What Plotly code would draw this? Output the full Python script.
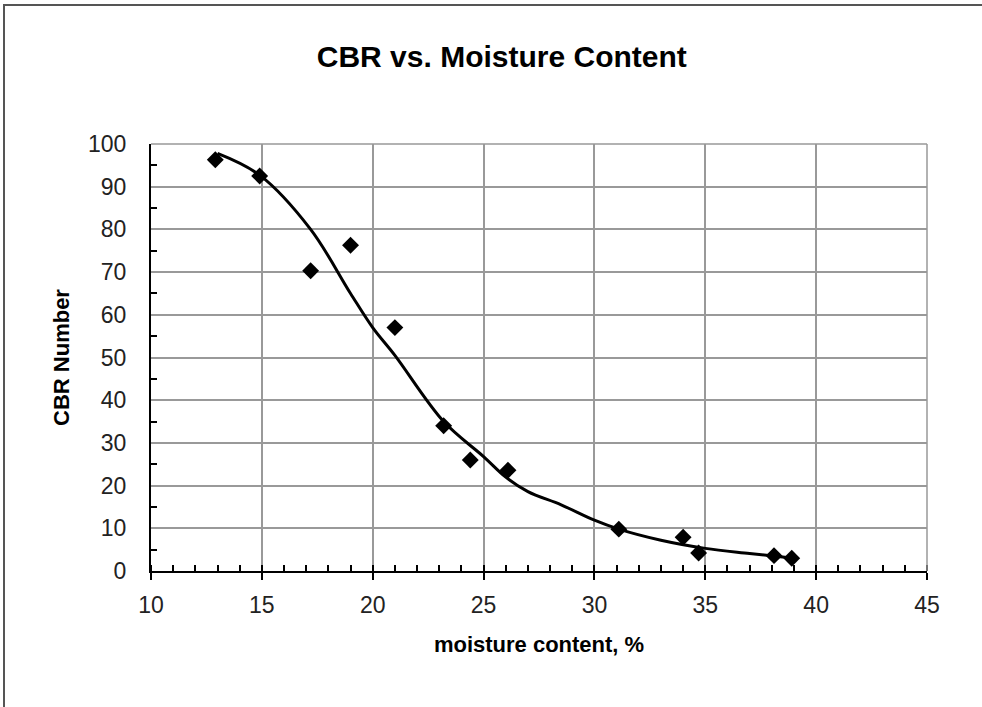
import plotly.graph_objects as go

# measured data points
moisture = [12.9, 14.9, 17.2, 19.0, 21.0, 23.2, 24.4, 26.1, 31.1, 34.0, 34.7, 38.1, 38.9]
cbr = [96.3, 92.5, 70.3, 76.3, 57.0, 34.0, 26.0, 23.6, 9.8, 7.9, 4.2, 3.6, 3.0]

# smooth trend curve
fit_x = [13.0, 14.9, 17.2, 19.0, 20.0, 21.0, 23.2, 25.0, 26.0, 27.0, 28.5, 30.0, 31.1, 33.0, 35.0, 37.0, 39.0]
fit_y = [97.8, 92.7, 80.0, 65.0, 57.0, 50.5, 35.0, 26.8, 22.0, 18.6, 15.5, 11.9, 9.8, 7.2, 5.3, 4.1, 3.0]

x_ticks = [10, 15, 20, 25, 30, 35, 40, 45]
y_ticks = [0, 10, 20, 30, 40, 50, 60, 70, 80, 90, 100]

FONT = "Liberation Sans, Arial, sans-serif"

fig = go.Figure()
fig.add_trace(go.Scatter(
    x=fit_x, y=fit_y, mode="lines",
    line=dict(color="black", width=3, shape="spline", smoothing=1.0),
    showlegend=False, hoverinfo="skip"))
fig.add_trace(go.Scatter(
    x=moisture, y=cbr, mode="markers",
    marker=dict(symbol="diamond", size=13, color="black"),
    showlegend=False))

fig.update_layout(
    width=982, height=707,
    margin=dict(l=151, r=55, t=144, b=136),
    paper_bgcolor="white", plot_bgcolor="white",
    font=dict(family=FONT, color="black"),
    title=dict(text="<b>CBR vs. Moisture Content</b>", x=0.511, xanchor="center",
               y=1 - 56 / 707, yanchor="middle", yref="container",
               font=dict(size=30, family=FONT, color="black")),
    xaxis=dict(
        range=[10, 45], tickvals=x_ticks, ticktext=[str(v) for v in x_ticks],
        showgrid=True, gridcolor="#999999", gridwidth=1.5,
        showline=True, linecolor="black", linewidth=2,
        ticks="outside", ticklen=7, tickwidth=1.5, tickcolor="black",
        minor=dict(dtick=1, ticks="inside", ticklen=6, tickwidth=1.5, tickcolor="black", showgrid=False),
        tickfont=dict(size=23, family=FONT, color="#222222"),
        ticklabelstandoff=5,
        zeroline=False,
        title=dict(text="<b>moisture content, %</b>", font=dict(size=22, family=FONT, color="black"), standoff=20),
    ),
    yaxis=dict(
        range=[0, 100], tickvals=y_ticks, ticktext=[str(v) for v in y_ticks],
        showgrid=True, gridcolor="#999999", gridwidth=1.5,
        showline=True, linecolor="black", linewidth=2,
        ticks="",
        minor=dict(tickvals=[5, 15, 25, 35, 45, 55, 65, 75, 85, 95], ticks="inside", ticklen=6,
                   tickwidth=1.5, tickcolor="black", showgrid=False),
        tickfont=dict(size=23, family=FONT, color="#222222"),
        ticklabelstandoff=18,
        zeroline=False,
        title=dict(text="<b>CBR Number</b>", font=dict(size=22, family=FONT, color="black"), standoff=12),
    ),
)

# outer chart frame (top and left visible, right/bottom beyond the canvas)
fig.add_shape(type="rect", xref="paper", yref="paper",
              x0=(4 - 151) / 776, x1=(990 - 151) / 776,
              y0=(571 - 715) / 427, y1=(571 - 5) / 427,
              line=dict(color="#555555", width=2), fillcolor="rgba(0,0,0,0)", layer="below")

# top/right plot border in grid gray
fig.add_shape(type="line", xref="paper", yref="paper", x0=0, x1=1, y0=1, y1=1,
              line=dict(color="#999999", width=1.5))
fig.add_shape(type="line", xref="paper", yref="paper", x0=1, x1=1, y0=0, y1=1,
              line=dict(color="#999999", width=1.5))

fig.write_html("out.html")
